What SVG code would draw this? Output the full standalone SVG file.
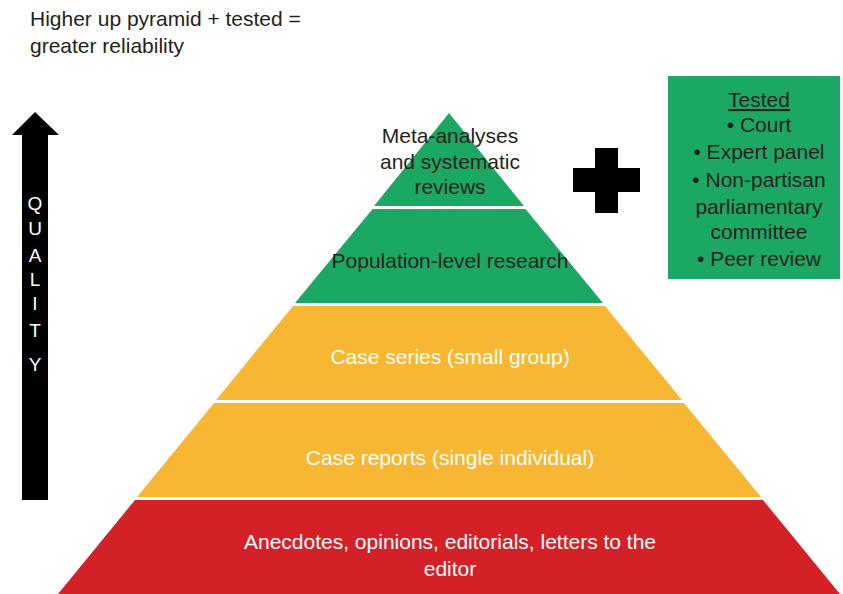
<svg xmlns="http://www.w3.org/2000/svg" width="843" height="594" viewBox="0 0 843 594">
<style>
.t{font-family:"Liberation Sans",Arial,sans-serif;font-size:21px;fill:#231f20;text-anchor:middle}
.w{fill:#ffffff}
.q{font-family:"Liberation Sans",Arial,sans-serif;font-size:19px;fill:#ffffff;text-anchor:middle}
.g{fill:#1ba862}
.o{fill:#f8b732}
.r{fill:#d42127}
</style>
<rect width="843" height="594" fill="#ffffff"/>
<g id="header">
<text class="t" x="30" y="26" style="text-anchor:start">Higher up pyramid + tested =</text>
<text class="t" x="30" y="53" style="text-anchor:start">greater reliability</text>
</g>
<g id="quality-arrow">
<path d="M22,500 L22,135 L12,135 L35,112 L59,135 L48,135 L48,500 Z" fill="#000"/>
<text class="q" x="35" y="210">Q</text>
<text class="q" x="35" y="235">U</text>
<text class="q" x="35" y="262">A</text>
<text class="q" x="35" y="286">L</text>
<text class="q" x="35" y="310">I</text>
<text class="q" x="35" y="337">T</text>
<text class="q" x="35" y="371">Y</text>
</g>
<g id="tier-meta">
<polygon class="g" points="449,113 524,206 374,206"/>
<text class="t" x="450" y="143">Meta-analyses</text>
<text class="t" x="450" y="169">and systematic</text>
<text class="t" x="450" y="194">reviews</text>
</g>
<g id="tier-population">
<polygon class="g" points="372.5,209 525.5,209 603,303 295,303"/>
<text class="t" x="450" y="268">Population-level research</text>
</g>
<g id="tier-case-series">
<polygon class="o" points="293,306 605,306 682,400 216,400"/>
<text class="t w" x="450" y="364">Case series (small group)</text>
</g>
<g id="tier-case-reports">
<polygon class="o" points="214,403 684,403 761,497 137,497"/>
<text class="t w" x="450" y="465">Case reports (single individual)</text>
</g>
<g id="tier-anecdotes">
<polygon class="r" points="135,500 763,500 840,594 58,594"/>
<text class="t w" x="450" y="549">Anecdotes, opinions, editorials, letters to the</text>
<text class="t w" x="450" y="576">editor</text>
</g>
<g id="plus">
<path d="M595,148 H618 V168 H640 V192 H618 V213 H595 V192 H573 V168 H595 Z" fill="#000"/>
</g>
<g id="tested-box">
<rect x="668" y="76" width="172" height="203" class="g"/>
<text class="t" x="759" y="107" text-decoration="underline">Tested</text>
<text class="t" x="759" y="132">• Court</text>
<text class="t" x="759" y="159">• Expert panel</text>
<text class="t" x="759" y="187">• Non-partisan</text>
<text class="t" x="759" y="214">parliamentary</text>
<text class="t" x="759" y="239">committee</text>
<text class="t" x="759" y="266">• Peer review</text>
</g>
</svg>
